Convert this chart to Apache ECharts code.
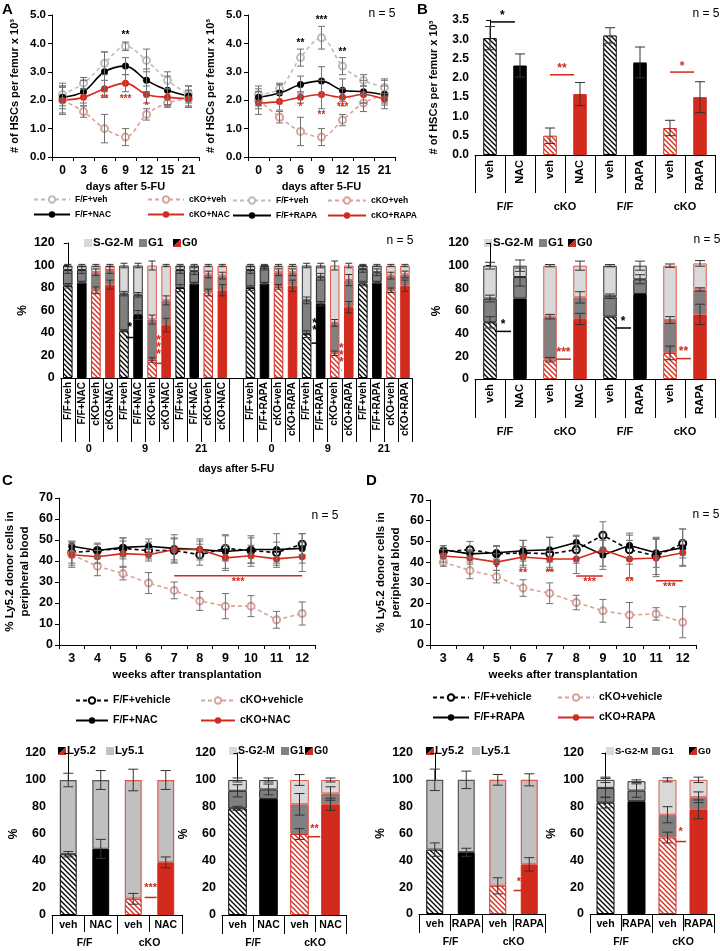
<!DOCTYPE html>
<html><head><meta charset="utf-8">
<script src="https://cdn.jsdelivr.net/npm/echarts@6/dist/echarts.min.js"></script>
<style>html,body{margin:0;padding:0;background:#fff}#c{width:720px;height:951px}</style>
</head><body><div id="c"></div>
<script>
// ================= DATA =================
// Panel A (top): HSC numbers after 5-FU
const daysA = ['0','3','6','9','12','15','21'];
const nacFFveh      = [2.2, 2.6, 3.3, 3.9, 3.4, 2.7, 2.2];
const nacFFvehErr   = [0.4, 0.2, 0.4, 0.15,0.4, 0.3, 0.3];
const nacCKOveh     = [2.0, 1.6, 1.0, 0.7, 1.5, 1.9, 2.05];
const nacCKOvehErr  = [0.5, 0.2, 0.5, 0.3, 0.2, 0.15,0.3];
const nacFFNAC      = [2.1, 2.3, 3.0, 3.2, 2.7, 2.35,2.15];
const nacFFNACErr   = [0.4, 0.4, 0.7, 0.3, 0.4, 0.5, 0.35];
const nacCKONAC     = [2.0, 2.1, 2.4, 2.6, 2.2, 2.1, 2.05];
const nacCKONACErr  = [0.45,0.3, 0.3, 0.3, 0.3, 0.3, 0.3];
const rapFFveh      = [2.2, 2.4, 3.5, 4.2, 3.2, 2.7, 2.45];
const rapFFvehErr   = [0.3, 0.2, 0.3, 0.4, 0.3, 0.2, 0.3];
const rapCKOveh     = [2.0, 1.4, 0.9, 0.7, 1.3, 1.9, 2.2];
const rapCKOvehErr  = [0.3, 0.2, 0.5, 0.3, 0.2, 0.3, 0.3];
const rapFFRAPA     = [2.1, 2.25,2.55,2.68,2.35,2.3, 2.2];
const rapFFRAPAErr  = [0.3, 0.3, 0.3, 0.5, 0.4, 0.4, 0.5];
const rapCKORAPA    = [1.9, 1.95,2.1, 2.2, 2.1, 2.2, 2.03];
const rapCKORAPAErr = [0.4, 0.3, 0.2, 0.5, 0.3, 0.3, 0.2];
const starsA1 = [[3,4.3,'**','#000'],[2,2.05,'**','red'],[3,2.05,'***','red'],[4,1.8,'*','red']];
const starsA2 = [[2,4.0,'**','#000'],[3,4.8,'***','#000'],[4,3.7,'**','#000'],[2,1.76,'*','red'],[3,1.48,'**','red'],[4,1.76,'***','red']];

// Panel B (top): HSC numbers
const bCats   = ['veh','NAC','veh','NAC','veh','RAPA','veh','RAPA'];
const bGroups = ['F/F','cKO','F/F','cKO'];
const bVals   = [3.03, 2.32, 0.5, 1.58, 3.1, 2.4, 0.7, 1.5];
const bErr    = [0.3, 0.3, 0.2, 0.3, 0.2, 0.4, 0.2, 0.4];

// Panel A (middle): cell cycle after 5-FU
const aStackCats = ['F/F+veh','F/F+NAC','cKO+veh','cKO+NAC','F/F+veh','F/F+NAC','cKO+veh','cKO+NAC','F/F+veh','F/F+NAC','cKO+veh','cKO+NAC','',
                    'F/F+veh','F/F+RAPA','cKO+veh','cKO+RAPA','F/F+veh','F/F+RAPA','cKO+veh','cKO+RAPA','F/F+veh','F/F+RAPA','cKO+veh','cKO+RAPA'];
const aStackGroups = ['0','9','21','0','9','21'];
const aG0    = [82,85,78,83, 42,56,16,47, 80,84,76,78, null, 80,84,81,82, 39,66,22,63, 84,85,78,82];
const aG1    = [14,11,16,13, 33,18,36,22, 16,11,16,13, null, 16,14,13,12, 30,24,27,24, 13, 9,13,10];
const aS     = [ 4, 4, 6, 4, 25,26,48,31,  4, 5, 8, 9, null,  4, 2, 6, 6, 31,10,51,13,  3, 6, 9, 8];
const aG0Err = [2,1,3,4, 1,4,2,6, 3,1,3,5, null, 2,1,2,5, 3,2,2,5, 2,1,2,5];
const aG1Err = [3,3,3,3, 2,2,4,4, 3,3,3,3, null, 3,2,3,3, 3,3,3,5, 3,3,3,3];
const aSErr  = [1,1,1,1, 2,2,4,1, 1,1,1,1, null, 1,1,1,1, 2,2,4,2, 1,1,1,1];

// Panel B (middle): cell cycle
const bG0    = [50,71,17,53,55,75,23,57];
const bG1    = [21,19,38,19,18,13,29,22];
const bS     = [29,10,45,28,27,12,48,23];
const bG0Err = [5,0,2,5,0,0,6,9];
const bG1Err = [3,8,2,5,2,4,3,1.5];
const bSErr  = [3,5,1,4,1,4,1.5,2.5];

// Panels C / D: chimerism
const weeks = ['3','4','5','6','7','8','9','10','11','12'];
const cFFveh     = [44,45,46,45,45,43,46,45,44,48];
const cFFvehErr  = [5,3,5,4,6,5,6,6,5,5];
const cCKOveh    = [43,37.5,34,29.5,26,21,18.5,18.5,12,15];
const cCKOvehErr = [5,4.5,3,5,4,4.5,6,5,4,5.5];
const cFFNAC     = [47,45,46.5,47,46,45.5,44.5,45.5,45.5,46];
const cFFNACErr  = [2.5,3.5,4.5,3.5,6.5,5,8,6.5,7.5,7];
const cCKONAC    = [43,42,43.5,43,45.5,45.5,41.5,42.5,41,42];
const cCKONACErr = [6,3,6,3,5,4,6,5,4,7];
const dFFveh      = [45,46,44,44.5,44,46,53,46,43,49];
const dFFvehErr   = [2,4,4,6,8,6.5,6.5,7,9,7];
const dCKOveh     = [40,36,33,27.5,25,20.5,16.5,14.5,15,11];
const dCKOvehErr  = [2,4,3,4,5,3.5,5.5,6,3,7.5];
const dFFRAPA     = [46,44,44.5,45.5,46,49.5,43.5,48,44.5,47];
const dFFRAPAErr  = [2,2,3,5,6,3.5,7,6,7,9];
const dCKORAPA    = [43,42,40,42.5,41.5,41.5,46,41.5,42,44.5];
const dCKORAPAErr = [3,3,4,5,4,7,8,9,9,6];

const lyGroups = ['F/F','cKO'];
const cLyCats = ['veh','NAC','veh','NAC'];
const cLy52 = [45,49,12,39], cLy51 = [55,51,88,61], cLy52Err = [2,7,4,4], cLyTotErr = [5,7,8,7];
const cG0 = [79,86,60,82], cG1 = [13,7,22,8], cS = [8,7,18,10];
const cG0Err = [1.5,0,4,4.5], cG1Err = [4.5,4,8,5], cSErr = [1.5,1.5,4,1.5];
const dLyCats = ['veh','RAPA','veh','RAPA'];
const dLy52 = [48,46,21,37], dLy51 = [52,54,79,63], dLy52Err = [5,3,6,5], dLyTotErr = [8,6.5,4,4.5];
const dG0 = [83,84,57,78], dG1 = [11,8,17,9], dS = [6,7,26,13];
const dG0Err = [4,0,4,7], dG1Err = [7,5,6,4], dSErr = [2,1,1.5,2];

// ================= STYLE / BUILD =================
const FONT = '"Liberation Sans", Arial, Helvetica, sans-serif';
const RED = '#d32a1e', REDB = '#e0574b', PINK = '#d9a29a', LGL = '#bdbdbd', DG = '#808080', LG = '#d9d9d9', LY51 = '#c0c0c0';
const B = {fontWeight:'bold', color:'#000', fontFamily:FONT};
function hatch(col){
  const s=5, c=document.createElement('canvas'); c.width=s; c.height=s;
  const g=c.getContext('2d'); g.fillStyle='#fff'; g.fillRect(0,0,s,s);
  g.strokeStyle=col; g.lineWidth=1.3; g.beginPath();
  g.moveTo(-1,-1); g.lineTo(s+1,s+1); g.moveTo(-1,s-1); g.lineTo(1,s+1); g.moveTo(s-1,-1); g.lineTo(s+1,1); g.stroke();
  return {image:c, repeat:'repeat'};
}
const HB = hatch('#000'), HR = hatch(RED);
const option = {animation:false, backgroundColor:'#fff', textStyle:{fontFamily:FONT},
  grid:[], xAxis:[], yAxis:[], series:[], legend:[], graphic:[]};

function grid(left, top, width, height){ option.grid.push({left, top, width, height}); return option.grid.length-1; }
function catAxis(gi, data, o){
  option.xAxis.push({gridIndex:gi, type:'category', data, boundaryGap:true,
    axisLine:{show:true, onZero:false, lineStyle:{color:'#000', width:1}},
    axisTick:{show:true, interval:0, length:o.tick, lineStyle:{color:'#000', width:1}},
    splitLine:{show:false},
    axisLabel:Object.assign({interval:0, fontSize:o.fs, margin:o.margin, rotate:o.rotate||0}, B),
    name:o.name||'', nameLocation:'middle', nameGap:o.nameGap||20, nameTextStyle:Object.assign({fontSize:o.nfs||11}, B)});
  return option.xAxis.length-1;
}
function groupAxis(gi, n, labelPos, labels, tickPos, offset, tickLen, margin, fs, name, nameGap){
  option.xAxis.push({gridIndex:gi, type:'value', min:-0.5, max:n-0.5, position:'bottom', offset,
    axisLine:{show:false}, splitLine:{show:false},
    axisTick:{show:true, customValues:tickPos, length:tickLen, lineStyle:{color:'#000', width:1}},
    axisLabel:Object.assign({customValues:labelPos, margin, fontSize:fs, formatter:v=>{const i=labelPos.indexOf(v); return i>=0?labels[i]:'';}}, B),
    name:name||'', nameLocation:'middle', nameGap:nameGap||20, nameTextStyle:Object.assign({fontSize:10.5}, B)});
}
function yAxis(gi, max, interval, name, nameGap, dec, fs, nfs){
  option.yAxis.push({gridIndex:gi, type:'value', min:0, max, interval,
    name, nameLocation:'middle', nameGap, nameTextStyle:Object.assign({fontSize:nfs||11, lineHeight:(nfs||11)+3}, B),
    axisLine:{show:true, lineStyle:{color:'#000', width:1}}, axisTick:{show:true, length:4, lineStyle:{color:'#000'}},
    splitLine:{show:false},
    axisLabel:Object.assign({fontSize:fs||12, margin:6, formatter:v=>dec?v.toFixed(dec):String(v)}, B)});
  return option.yAxis.length-1;
}
function errBars(xi, yi, centers, errs, cap, color){
  const data=[];
  centers.forEach((c,i)=>{ if(c==null||errs[i]==null||!errs[i]) return; data.push([i, c-errs[i], c+errs[i]]); });
  option.series.push({type:'custom', xAxisIndex:xi, yAxisIndex:yi, silent:true, z:6, data, encode:{x:0, y:[1,2]},
    renderItem:(p, api)=>{
      const lo=api.coord([api.value(0), api.value(1)]), hi=api.coord([api.value(0), api.value(2)]);
      const x=lo[0], w=cap/2, st={stroke:color, lineWidth:1};
      return {type:'group', children:[
        {type:'line', shape:{x1:x,y1:lo[1],x2:x,y2:hi[1]}, style:st},
        {type:'line', shape:{x1:x-w,y1:lo[1],x2:x+w,y2:lo[1]}, style:st},
        {type:'line', shape:{x1:x-w,y1:hi[1],x2:x+w,y2:hi[1]}, style:st}]};
    }});
}
function texts(xi, yi, items, fs){
  option.series.push({type:'custom', xAxisIndex:xi, yAxisIndex:yi, silent:true, z:12,
    data: items.map(d=>[d[0], d[1]]),
    renderItem:(p, api)=>{
      const d=items[p.dataIndex], c=api.coord([api.value(0), api.value(1)]);
      return {type:'text', x:c[0], y:c[1], style:{text:d[2], fill:d[3]==='red'?RED:d[3], font:'bold '+(fs||11)+'px '+FONT, align:'center', verticalAlign:'middle', lineHeight:7}};
    }});
}
function sigs(xi, yi, items){
  option.series.push({type:'custom', xAxisIndex:xi, yAxisIndex:yi, silent:true, z:12,
    data: items.map(d=>[d.a, d.y]),
    renderItem:(p, api)=>{
      const d=items[p.dataIndex], bw=api.size([1,0])[0];
      const ca=api.coord([d.a, d.y]), cb=api.coord([d.b, d.y]);
      const x0=ca[0]+d.f0*bw, x1=cb[0]-d.f1*bw, col=d.c==='red'?RED:d.c;
      const ch=[{type:'line', shape:{x1:x0,y1:ca[1],x2:x1,y2:ca[1]}, style:{stroke:col, lineWidth:1.5}}];
      if(d.t){ const ct=api.coord([d.a, d.ty]);
        ch.push({type:'text', x:(d.tx!=null?ca[0]+d.tx*bw:(x0+x1)/2), y:ct[1], style:{text:d.t, fill:col, font:'bold '+(d.fs||11)+'px '+FONT, align:'center', verticalAlign:'middle', lineHeight:7}}); }
      return {type:'group', children:ch};
    }});
}
function lineSeries(xi, yi, name, data, err, color, open, dash, smooth){
  errBars(xi, yi, data, err, 7, '#707070');
  option.series.push({type:'line', name, xAxisIndex:xi, yAxisIndex:yi, data, smooth:smooth?0.35:false, z:4,
    symbol: open?'emptyCircle':'circle', symbolSize:7,
    lineStyle:{color, width:1.6, type: dash?[4,3]:'solid'},
    itemStyle:{color, borderColor:color, borderWidth: open?1.3:0}});
}
function leg(name, left, yc, w, fs){
  option.legend.push({data:[name], left, top:yc-5, itemWidth:w, itemHeight:8, padding:0, selectedMode:false,
    textStyle:Object.assign({fontSize:fs}, B)});
}
function kindOf(group, cat){ return (group==='cKO'?'cko':'ff') + (cat==='veh'?'veh':'tx'); }
function segStyle(kind, seg){
  const ff = kind.startsWith('ff');
  if(seg==='G0') return {color: kind==='ffveh'?HB: kind==='fftx'?'#000': kind==='ckoveh'?HR:RED, borderColor: ff?'#000':RED, borderWidth:1};
  if(seg==='G1') return {color: DG, borderColor: ff?'#222':REDB, borderWidth:1};
  if(seg==='LY51') return {color: LY51, borderColor: ff?'#555':REDB, borderWidth:1.2};
  return {color: LG, borderColor: ff?'#333':REDB, borderWidth:1};
}
function stacked(xi, yi, kinds, segs, bw, cap, stackId){
  const cum = kinds.map(()=>0);
  segs.forEach(s=>{
    option.series.push({type:'bar', name:s.name, xAxisIndex:xi, yAxisIndex:yi, stack:stackId, barWidth:bw, z:2,
      data: s.data.map((v,i)=> v==null?'-':{value:v, itemStyle:segStyle(kinds[i], s.seg)})});
    const tops = s.data.map((v,i)=> v==null?null:(cum[i]+=v));
    errBars(xi, yi, tops, s.err, cap, '#333');
  });
}
function nText(x, y, t){ option.graphic.push({type:'text', x, y, style:{text:t, font:'12px '+FONT, fill:'#000', align:'center', verticalAlign:'middle'}}); }
function letter(x, y, t){ option.graphic.push({type:'text', x, y, style:{text:t, font:'bold 15px '+FONT, fill:'#000'}}); }
function barLeg(items, yc, fs){
  items.forEach(it=>{
    const s=8, x=it.x, y=yc-s/2;
    if(it.split){
      option.graphic.push({type:'polygon', shape:{points:[[x,y],[x+s,y],[x,y+s]]}, style:{fill:'#000'}});
      option.graphic.push({type:'polygon', shape:{points:[[x+s,y],[x+s,y+s],[x,y+s]]}, style:{fill:RED}});
    } else option.graphic.push({type:'rect', shape:{x, y, width:s, height:s}, style:{fill:it.col}});
    option.graphic.push({type:'text', x:x+s+1, y:yc, style:{text:it.t, font:'bold '+(fs||11.5)+'px '+FONT, fill:'#000', verticalAlign:'middle'}});
  });
}

// ---------- A top-left (NAC) ----------
let g = grid(52, 15, 147, 142);
let xi = catAxis(g, daysA, {tick:4, fs:12, margin:8, name:'days after 5-FU', nameGap:24, nfs:11});
let yi = yAxis(g, 5, 1, '# of HSCs per femur x 10³', 30, 1, 11.5, 11);
lineSeries(xi, yi, 'F/F+veh', nacFFveh, nacFFvehErr, LGL, true, true, true);
lineSeries(xi, yi, 'cKO+veh', nacCKOveh, nacCKOvehErr, PINK, true, true, true);
lineSeries(xi, yi, 'F/F+NAC', nacFFNAC, nacFFNACErr, '#000', false, false, true);
lineSeries(xi, yi, 'cKO+NAC', nacCKONAC, nacCKONACErr, RED, false, false, true);
texts(xi, yi, starsA1, 10);
leg('F/F+veh', 33, 200, 36, 8.5); leg('cKO+veh', 147, 200, 36, 8.5);
leg('F/F+NAC', 33, 215, 36, 8.5); leg('cKO+NAC', 147, 215, 36, 8.5);

// ---------- A top-right (RAPA) ----------
g = grid(248, 15, 147, 142);
xi = catAxis(g, daysA, {tick:4, fs:12, margin:8, name:'days after 5-FU', nameGap:24, nfs:11});
yi = yAxis(g, 5, 1, '# of HSCs per femur x 10³', 30, 1, 11.5, 11);
lineSeries(xi, yi, 'F/F+veh', rapFFveh, rapFFvehErr, LGL, true, true, true);
lineSeries(xi, yi, 'cKO+veh', rapCKOveh, rapCKOvehErr, PINK, true, true, true);
lineSeries(xi, yi, 'F/F+RAPA', rapFFRAPA, rapFFRAPAErr, '#000', false, false, true);
lineSeries(xi, yi, 'cKO+RAPA', rapCKORAPA, rapCKORAPAErr, RED, false, false, true);
texts(xi, yi, starsA2, 10);
leg('F/F+veh', 232, 201, 38, 8.5); leg('cKO+veh', 327, 201, 38, 8.5);
leg('F/F+RAPA', 232, 216, 38, 8.5); leg('cKO+RAPA', 327, 216, 38, 8.5);

// ---------- B top ----------
g = grid(475, 20, 240, 135);
xi = catAxis(g, bCats, {tick:38, fs:11, margin:5, rotate:90});
groupAxis(g, 8, [0.5,2.5,4.5,6.5], bGroups, [-0.5,1.5,3.5,5.5,7.5], 38, 20, 8, 11);
yi = yAxis(g, 3.5, 0.5, '# of HSCs per femur x 10³', 34, 1, 12, 11);
const bKinds = bCats.map((c,i)=>kindOf(bGroups[Math.floor(i/2)], c));
option.series.push({type:'bar', name:'HSC', xAxisIndex:xi, yAxisIndex:yi, barWidth:'45%', z:2,
  data: bVals.map((v,i)=>({value:v, itemStyle:segStyle(bKinds[i],'G0')}))});
errBars(xi, yi, bVals, bErr, 10, '#333');
sigs(xi, yi, [
  {a:0,b:1,f0:0,f1:0.17,y:3.45,t:'*',ty:3.62,c:'#000',fs:12},
  {a:2,b:3,f0:0,f1:0.2,y:2.08,t:'**',ty:2.25,c:'red',fs:12},
  {a:6,b:7,f0:0,f1:0.2,y:2.15,t:'*',ty:2.3,c:'red',fs:12}]);

// ---------- A middle stacked ----------
g = grid(51, 243, 361, 135);
xi = catAxis(g, aStackCats, {tick:64, fs:10, margin:4, rotate:90});
groupAxis(g, 25, [1.5,5.5,9.5,14.5,18.5,22.5], aStackGroups, [-0.5,3.5,7.5,12.5,16.5,20.5,24.5], 62, 15, 3, 11, 'days after 5-FU', 24);
yi = yAxis(g, 120, 20, '%', 30, 0, 12.5, 12);
const aKinds = aStackCats.map(c=> c===''?null:kindOf(c.startsWith('cKO')?'cKO':'F/F', c.endsWith('veh')?'veh':'tx'));
stacked(xi, yi, aKinds, [
  {name:'G0', seg:'G0', data:aG0, err:aG0Err},
  {name:'G1', seg:'G1', data:aG1, err:aG1Err},
  {name:'S-G2-M', seg:'S', data:aS, err:aSErr}], '68%', 7, 'a');
sigs(xi, yi, [
  {a:4,b:5,f0:0.14,f1:0.31,y:36,t:'*',ty:45,c:'#000',fs:12},
  {a:6,b:7,f0:0.2,f1:0.28,y:13,t:'*\n*\n*',ty:27,c:'red',fs:12},
  {a:17,b:18,f0:0.35,f1:0.2,y:31,t:'*\n*',ty:45,c:'#000',fs:12},
  {a:19,b:20,f0:0.45,f1:0.5,y:7,t:'*\n*\n*',ty:20,c:'red',fs:12}]);
barLeg([{x:84,col:LG,t:'S-G2-M'},{x:139,col:DG,t:'G1'},{x:173,split:true,t:'G0'}], 243, 11.5);

// ---------- B middle stacked ----------
g = grid(475, 243, 240, 136);
xi = catAxis(g, bCats, {tick:39, fs:11, margin:5, rotate:90});
groupAxis(g, 8, [0.5,2.5,4.5,6.5], bGroups, [-0.5,1.5,3.5,5.5,7.5], 39, 20, 8, 11);
yi = yAxis(g, 120, 20, '%', 30, 0, 12.5, 12);
stacked(xi, yi, bKinds, [
  {name:'G0', seg:'G0', data:bG0, err:bG0Err},
  {name:'G1', seg:'G1', data:bG1, err:bG1Err},
  {name:'S-G2-M', seg:'S', data:bS, err:bSErr}], '45%', 10, 'b');
sigs(xi, yi, [
  {a:0,b:1,f0:0.17,f1:0.3,y:42,t:'*',ty:48,c:'#000',fs:12},
  {a:2,b:3,f0:0.2,f1:0.3,y:17.5,t:'***',ty:23,c:'red',fs:12},
  {a:4,b:5,f0:0.17,f1:0.3,y:45,t:'*',ty:51,c:'#000',fs:12},
  {a:6,b:7,f0:0.2,f1:0.3,y:18,t:'**',ty:24,c:'red',fs:12}]);
barLeg([{x:484,col:LG,t:'S-G2-M'},{x:539,col:DG,t:'G1'},{x:568,split:true,t:'G0'}], 243, 11.5);

// ---------- C line ----------
g = grid(59, 498, 256, 147);
xi = catAxis(g, weeks, {tick:4, fs:12.5, margin:7, name:'weeks after transplantation', nameGap:24, nfs:11.5});
yi = yAxis(g, 70, 10, '% Ly5.2 donor cells in\nperipheral blood', 27, 0, 12.5, 11.5);
lineSeries(xi, yi, 'F/F+vehicle', cFFveh, cFFvehErr, '#000', true, true, false);
lineSeries(xi, yi, 'cKO+vehicle', cCKOveh, cCKOvehErr, PINK, true, true, false);
lineSeries(xi, yi, 'F/F+NAC', cFFNAC, cFFNACErr, '#000', false, false, false);
lineSeries(xi, yi, 'cKO+NAC', cCKONAC, cCKONACErr, RED, false, false, false);
sigs(xi, yi, [{a:4,b:9,f0:0,f1:0,y:33,t:'***',ty:30,c:'red',fs:11}]);
leg('F/F+vehicle', 75, 700, 32, 10.5); leg('cKO+vehicle', 200, 700, 34, 10.5);
leg('F/F+NAC', 75, 720, 32, 10.5); leg('cKO+NAC', 200, 720, 34, 10.5);

// ---------- D line ----------
g = grid(430, 500, 266, 145);
xi = catAxis(g, weeks, {tick:4, fs:12.5, margin:7, name:'weeks after transplantation', nameGap:24, nfs:11.5});
yi = yAxis(g, 70, 10, '% Ly5.2 donor cells in\nperipheral blood', 27, 0, 12.5, 11.5);
lineSeries(xi, yi, 'F/F+vehicle', dFFveh, dFFvehErr, '#000', true, true, false);
lineSeries(xi, yi, 'cKO+vehicle', dCKOveh, dCKOvehErr, PINK, true, true, false);
lineSeries(xi, yi, 'F/F+RAPA', dFFRAPA, dFFRAPAErr, '#000', false, false, false);
lineSeries(xi, yi, 'cKO+RAPA', dCKORAPA, dCKORAPAErr, RED, false, false, false);
texts(xi, yi, [[2,37,'*','red'],[3,35,'**','red'],[4,35,'**','red'],[7,30.5,'**','red']], 11);
sigs(xi, yi, [{a:5,b:6,f0:0,f1:0,y:33.3,t:'***',ty:30.5,c:'red',fs:11},{a:8,b:9,f0:0,f1:0,y:31,t:'***',ty:28,c:'red',fs:11}]);
leg('F/F+vehicle', 432, 697, 36, 10.5); leg('cKO+vehicle', 557, 697, 36, 10.5);
leg('F/F+RAPA', 432, 717, 36, 10.5); leg('cKO+RAPA', 557, 717, 36, 10.5);

// ---------- bottom bar charts ----------
function bottomChart(left, width, cats, top, height){
  const gg = grid(left, top, width, height);
  const x = catAxis(gg, cats, {tick:17, fs:10.5, margin:5});
  groupAxis(gg, 4, [0.5,2.5], lyGroups, [-0.5,1.5,3.5], 17, 19, 6, 10.5);
  const y = yAxis(gg, 120, 20, '%', 28, 0, 12.5, 12);
  return {x, y, kinds: cats.map((c,i)=>kindOf(lyGroups[Math.floor(i/2)], c))};
}
let bc = bottomChart(52, 130, cLyCats, 753, 162);
stacked(bc.x, bc.y, bc.kinds, [
  {name:'Ly5.2', seg:'G0', data:cLy52, err:cLy52Err},
  {name:'Ly5.1', seg:'LY51', data:cLy51, err:cLyTotErr}], '52%', 10, 'c3');
sigs(bc.x, bc.y, [{a:2,b:3,f0:0.35,f1:0.28,y:13,t:'***',ty:20,c:'red',fs:11}]);
barLeg([{x:58,split:true,t:'Ly5.2'},{x:106,col:LY51,t:'Ly5.1'}], 751, 11.5);

bc = bottomChart(222, 124, cLyCats, 753, 162);
stacked(bc.x, bc.y, bc.kinds, [
  {name:'G0', seg:'G0', data:cG0, err:cG0Err},
  {name:'G1', seg:'G1', data:cG1, err:cG1Err},
  {name:'S-G2-M', seg:'S', data:cS, err:cSErr}], '60%', 10, 'c4');
sigs(bc.x, bc.y, [{a:2,b:3,f0:0.3,f1:0.33,y:58,t:'**',ty:64,c:'red',fs:11}]);
barLeg([{x:229,col:LG,t:'S-G2-M'},{x:281,col:DG,t:'G1'},{x:305,split:true,t:'G0'}], 751, 10.5);

bc = bottomChart(419, 126, dLyCats, 753, 161);
stacked(bc.x, bc.y, bc.kinds, [
  {name:'Ly5.2', seg:'G0', data:dLy52, err:dLy52Err},
  {name:'Ly5.1', seg:'LY51', data:dLy51, err:dLyTotErr}], '54%', 10, 'd3');
sigs(bc.x, bc.y, [{a:2,b:3,f0:0.5,f1:0.15,y:17.5,t:'*',ty:24,c:'red',fs:11}]);
barLeg([{x:426,split:true,t:'Ly5.2'},{x:472,col:LY51,t:'Ly5.1'}], 751, 11.5);

bc = bottomChart(590, 124, dLyCats, 753, 161);
stacked(bc.x, bc.y, bc.kinds, [
  {name:'G0', seg:'G0', data:dG0, err:dG0Err},
  {name:'G1', seg:'G1', data:dG1, err:dG1Err},
  {name:'S-G2-M', seg:'S', data:dS, err:dSErr}], '58%', 10, 'd4');
sigs(bc.x, bc.y, [{a:2,b:3,f0:0.25,f1:0.4,y:54,t:'*',ty:61,c:'red',fs:11}]);
barLeg([{x:606,col:LG,t:'S-G2-M'},{x:652,col:DG,t:'G1'},{x:689,split:true,t:'G0'}], 751, 9.5);

// ---------- labels ----------
letter(2, 2, 'A'); letter(417, 2, 'B'); letter(2, 473, 'C'); letter(366, 473, 'D');
nText(382, 14, 'n = 5'); nText(706, 14, 'n = 5'); nText(400, 241, 'n = 5'); nText(707, 240, 'n = 5');
nText(325, 516, 'n = 5'); nText(706, 515, 'n = 5');

const chart = echarts.init(document.getElementById('c'));
chart.setOption(option);
</script></body></html>
